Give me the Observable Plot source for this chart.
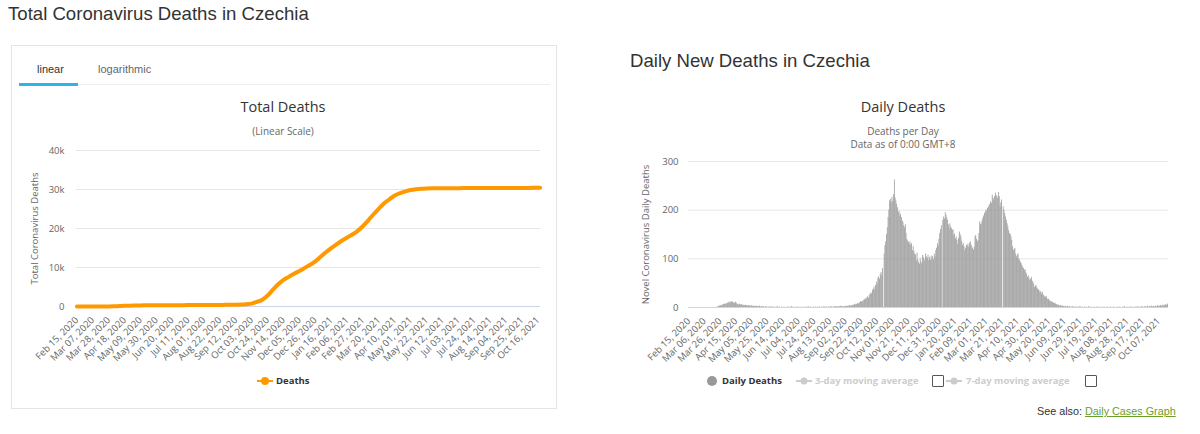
<!DOCTYPE html>
<html><head><meta charset="utf-8">
<script src="https://cdn.jsdelivr.net/npm/d3@7"></script>
<script src="https://cdn.jsdelivr.net/npm/@observablehq/plot@0.6"></script>
<style>
body{margin:0;width:1200px;height:434px;background:#fff;position:relative;overflow:hidden;font-family:"Liberation Sans",Arial,sans-serif;}
.abs{position:absolute;white-space:nowrap;line-height:1;}
.h{font-size:18.6px;color:#333;}
.hc{font-family:"Open Sans","DejaVu Sans",sans-serif;}
.ctitle{font-size:14.5px;color:#333;transform:translateX(-50%);}
.csub{font-size:10px;color:#666;transform:translateX(-50%);text-align:center;line-height:13px;}
.leg{font-size:9.5px;font-weight:bold;color:#333;}
svg.icon{position:absolute;overflow:visible;}
</style></head><body>
<script>
// ---------- DATA ----------
const startDate = "2020-02-15";               // first day of both series
// daily new deaths, one value per day from Feb 15, 2020 to Oct 19, 2021
const dailyDeaths = [
  // Feb 2020 (from 15th)
  0,0,0,0,0,0,0,0,0,0,0,0,0,0,0,
  // Mar 2020
  0,0,0,0,0,0,0,0,0,0,0,0,0,0,0,0,0,0,0,0,0,1,0,2,3,3,4,3,5,5,6,
  // Apr 2020
  7,6,8,7,9,10,8,12,10,11,12,9,10,8,11,9,7,6,5,7,6,5,6,4,5,3,4,5,3,4,
  // May 2020
  3,4,3,2,4,3,2,3,2,1,3,2,2,1,2,3,1,2,1,1,2,0,1,2,1,0,1,1,0,1,1,
  // Jun 2020
  1,0,1,0,0,1,0,2,0,1,0,0,1,0,0,1,0,0,0,1,0,1,0,0,1,2,0,1,0,0,
  // Jul 2020
  0,1,0,0,1,0,0,1,0,0,0,1,0,0,1,0,2,0,0,1,0,0,0,1,0,1,0,0,1,0,1,
  // Aug 2020
  1,0,1,0,0,2,1,0,1,1,0,1,0,2,1,1,0,1,2,1,1,2,1,1,2,1,3,2,1,2,1,
  // Sep 2020
  2,1,3,2,2,3,2,4,3,3,4,5,4,6,5,7,6,8,7,9,10,12,11,13,12,15,16,18,17,20,
  // Oct 2020
  22,19,25,27,30,28,35,38,42,36,45,52,48,60,63,58,68,72,65,80,0,110,127,135,150,164,185,200,219,222,215,
  // Nov 2020
  226,218,232,262,225,219,212,205,195,198,188,192,185,178,175,168,164,170,152,140,137,134,130,135,128,131,117,125,116,110,
  // Dec 2020
  108,96,112,98,92,89,100,94,90,107,103,99,95,110,104,101,108,96,103,97,106,100,105,98,110,104,117,122,131,126,140,
  // Jan 2021
  152,160,168,0,179,186,182,195,190,184,179,170,162,172,166,162,158,160,148,151,141,145,138,130,142,155,150,145,136,128,132,
  // Feb 2021
  125,117,122,128,126,130,124,132,135,128,125,121,118,124,145,148,140,135,138,152,176,170,172,178,183,188,193,196,
  // Mar 2021
  200,198,204,206,210,212,217,214,231,225,221,228,235,230,228,224,236,228,207,215,221,0,207,200,193,186,179,172,166,158,152,
  // Apr 2021
  150,145,138,125,117,120,121,110,104,108,110,100,97,93,90,86,83,80,76,78,72,68,62,65,60,55,58,62,54,52,
  // May 2021
  48,41,44,45,40,38,36,34,30,33,28,31,26,24,22,21,23,18,16,17,14,12,13,10,11,9,8,9,7,6,5,
  // Jun 2021
  4,5,3,4,2,3,3,2,1,2,3,1,2,1,1,2,0,1,1,2,0,1,0,1,1,0,1,0,2,1,
  // Jul 2021
  0,1,0,0,1,0,1,0,0,2,0,0,1,0,0,0,1,0,0,1,0,0,1,0,0,0,1,0,0,1,0,
  // Aug 2021
  0,0,1,0,0,0,1,0,0,0,1,0,0,0,0,1,0,0,1,0,0,0,1,0,2,0,0,1,0,0,1,
  // Sep 2021
  0,1,0,0,1,0,0,1,0,2,0,1,0,1,0,2,1,0,1,2,0,1,3,1,0,2,1,3,2,1,
  // Oct 2021 (to 19th)
  2,1,3,2,1,4,2,3,2,4,3,2,5,3,4,6,4,5,7
];
// total deaths, every 7th day from Feb 15, 2020
const weeklyTotalDeaths = [
  0,0,0,0,0,0,9,53,119,181,223,252,280,295,310,319,326,331,335,346,
  351,353,358,363,385,388,398,408,422,434,459,508,590,740,1200,1750,2800,4300,5700,6800,
  7600,8400,9100,9900,10700,11550,12750,13900,14950,15950,16870,17700,18460,19400,20650,22100,23660,25100,26500,27500,
  28450,29050,29500,29850,30050,30180,30260,30300,30320,30330,30340,30345,30350,30355,30360,30365,30368,30370,30375,30378,
  30382,30385,30390,30395,30400,30410,30420,30440
];
const lastDayTotal = 30450;     // Oct 19, 2021
const totalYTicks = [0, 10000, 20000, 30000, 40000];
const dailyYTicks = [0, 100, 200, 300];
const totalTickStepDays = 21;
const dailyTickStepDays = 20;
</script>

<div class="abs h" style="left:8px;top:5px">Total Coronavirus Deaths in Czechia</div>
<div class="abs h" style="left:630px;top:52px">Daily New Deaths in Czechia</div>

<div class="abs" style="left:11px;top:45px;width:544px;height:362px;border:1px solid #e4e4e4;"></div>
<div class="abs" style="left:19px;top:84px;width:531px;height:1px;background:#eee;"></div>
<div class="abs" style="left:19px;top:83px;width:59px;height:3px;background:#2bb5ec;"></div>
<div class="abs" style="left:37px;top:64px;font-size:11px;color:#333;">linear</div>
<div class="abs" style="left:98px;top:64px;font-size:11px;color:#666;">logarithmic</div>

<div class="abs hc ctitle" style="left:283px;top:100px">Total Deaths</div>
<div class="abs hc csub" style="left:283px;top:125px">(Linear Scale)</div>
<div class="abs hc ctitle" style="left:903px;top:100px">Daily Deaths</div>
<div class="abs hc csub" style="left:903px;top:125px">Deaths per Day<br>Data as of 0:00 GMT+8</div>

<div id="left" class="abs" style="left:12px;top:140px"></div>
<div id="right" class="abs" style="left:620px;top:150px"></div>

<!-- legends -->
<svg class="icon" style="left:257px;top:376px" width="16" height="10"><line x1="0" y1="5" x2="16" y2="5" stroke="#ff9900" stroke-width="2"/><circle cx="8" cy="5" r="4" fill="#ff9900"/></svg>
<div class="abs hc leg" style="left:276px;top:376px">Deaths</div>

<svg class="icon" style="left:706px;top:375px" width="12" height="12"><circle cx="6" cy="6" r="5" fill="#999"/></svg>
<div class="abs hc leg" style="left:722px;top:376px">Daily Deaths</div>
<svg class="icon" style="left:796px;top:376px" width="16" height="10"><line x1="0" y1="5" x2="16" y2="5" stroke="#ccc" stroke-width="2"/><circle cx="8" cy="5" r="3.5" fill="#ccc"/></svg>
<div class="abs hc leg" style="left:815px;top:376px;color:#ccc">3-day moving average</div>
<div class="abs" style="left:932px;top:375px;width:10px;height:10px;border:1px solid #555;border-radius:1px;"></div>
<svg class="icon" style="left:946px;top:376px" width="16" height="10"><line x1="0" y1="5" x2="16" y2="5" stroke="#ccc" stroke-width="2"/><circle cx="8" cy="5" r="3.5" fill="#ccc"/></svg>
<div class="abs hc leg" style="left:966px;top:376px;color:#ccc">7-day moving average</div>
<div class="abs" style="left:1085px;top:375px;width:10px;height:10px;border:1px solid #555;border-radius:1px;"></div>

<div class="abs" style="left:1037px;top:406px;font-size:10.8px;color:#333;">See also: <span style="color:#6a9f2a;text-decoration:underline;">Daily Cases Graph</span></div>

<script>
const DAY = 864e5;
const t0 = Date.parse(startDate + "T00:00:00Z");
const day = i => new Date(t0 + i * DAY);
const nDays = dailyDeaths.length;
const fmt = d3.utcFormat("%b %d, %Y");
const hcFont = '"Open Sans","DejaVu Sans",sans-serif';

const totalData = weeklyTotalDeaths.map((v, k) => ({date: day(k * 7), v}))
  .concat([{date: day(nDays - 1), v: lastDayTotal}]);
const leftTicks = d3.range(0, nDays - 2, totalTickStepDays).map(day);

const left = Plot.plot({
  width: 540, height: 232,
  marginTop: 10, marginLeft: 64, marginRight: 12, marginBottom: 66,
  style: {fontFamily: hcFont, fontSize: "9.5px", color: "#666", background: "transparent", overflow: "visible"},
  x: {type: "utc", domain: [day(-0.5), day(nDays - 0.5)], ticks: leftTicks, tickFormat: fmt,
      tickRotate: -45, tickSize: 0, tickPadding: 12, label: null},
  y: {domain: [0, 40000], ticks: totalYTicks, tickFormat: d => d ? d / 1000 + "k" : "0",
      tickSize: 0, tickPadding: 12, label: "Total Coronavirus Deaths", labelAnchor: "center",
      labelOffset: 45, labelArrow: "none"},
  marks: [
    Plot.gridY(totalYTicks, {stroke: "#e6e6e6", strokeOpacity: 1}),
    Plot.ruleY([0], {stroke: "#ccd6eb"}),
    Plot.lineY(totalData, {x: "date", y: "v", stroke: "#ff9900", strokeWidth: 4, curve: "monotone-x"})
  ]
});
document.getElementById("left").appendChild(left);

const dailyData = dailyDeaths.map((v, i) => ({x1: day(i - 0.5), x2: day(i + 0.5), v}));
const rightTicks = d3.range(0, nDays - 5, dailyTickStepDays).map(day);

const right = Plot.plot({
  width: 560, height: 222,
  marginTop: 11, marginLeft: 68, marginRight: 12, marginBottom: 65,
  style: {fontFamily: hcFont, fontSize: "9.5px", color: "#666", background: "transparent", overflow: "visible"},
  x: {type: "utc", domain: [day(-0.5), day(nDays - 0.5)], ticks: rightTicks, tickFormat: fmt,
      tickRotate: -45, tickSize: 0, tickPadding: 12, label: null},
  y: {domain: [0, 300], ticks: dailyYTicks, tickSize: 0, tickPadding: 10,
      label: "Novel Coronavirus Daily Deaths", labelAnchor: "center", labelOffset: 46, labelArrow: "none"},
  marks: [
    Plot.gridY(dailyYTicks, {stroke: "#e6e6e6", strokeOpacity: 1}),
    Plot.rect(dailyData, {x1: "x1", x2: "x2", y1: 0, y2: "v", fill: "#9a9a9a"}),
    Plot.ruleY([0], {stroke: "#ccd6eb"})
  ]
});
document.getElementById("right").appendChild(right);
</script>
</body></html>
